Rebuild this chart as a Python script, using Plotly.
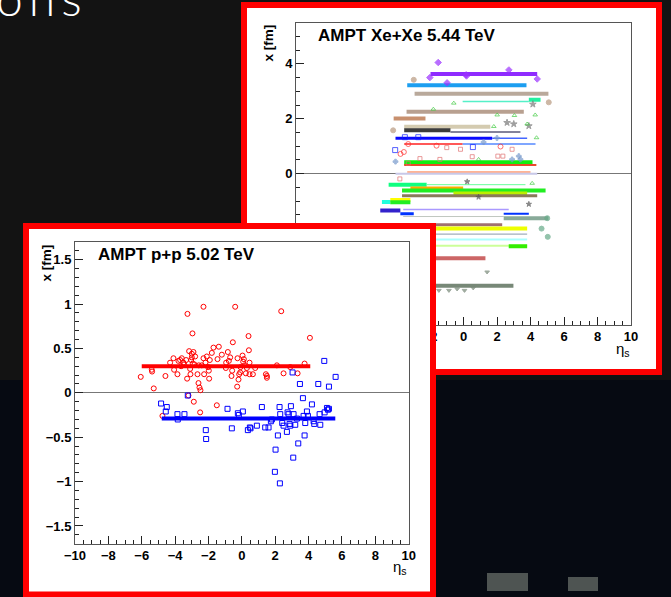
import plotly.graph_objects as go

W, H = 671, 597


def fx(X):
    return X / W


def fy(Y):
    return 1 - Y / H


# ---------------- p+p data ----------------
pp_red_eta = [-6.06, -5.40, -5.38, -5.28, -4.76, -4.58, -4.30, -4.10, -4.06, -3.86, -3.80, -3.70,
              -3.64, -3.60, -3.50, -3.46, -3.34, -3.28, -3.26, -3.20, -3.16, -3.10, -3.08, -3.04,
              -3.00, -3.00, -2.96, -2.94, -2.90, -2.84, -2.80, -2.88, -2.66, -2.60, -2.58, -2.54,
              -2.48, -2.50, -2.40, -2.30, -2.26, -2.30, -2.18, -2.10, -2.02, -1.98, -1.96, -1.92,
              -1.80, -1.70, -1.50, -1.46, -1.38, -1.20, -0.96, -0.94, -0.84, -0.78, -0.70, -0.62,
              -0.58, -0.54, -0.40, -0.28, -0.26, -0.20, -0.16, -0.10, -0.08, 0.04, 0.08, 0.12,
              0.16, 0.24, 0.30, 0.40, 0.42, 0.46, 0.46, 0.66, 0.80, 1.44, 1.50, 1.50, 2.10, 2.36,
              2.50, 2.90, 3.34, 3.76, 4.08]
pp_red_x = [0.18, 0.26, 0.24, 0.05, -0.26, 0.19, 0.34, 0.39, 0.26, 0.21, 0.36, 0.37,
            0.30, 0.39, 0.34, 0.32, 0.37, 0.16, 0.89, -0.03, 0.47, 0.27, 0.21, 0.37,
            0.40, 0.44, 0.67, 0.33, 0.46, 0.32, 0.41, -0.10, 0.21, 0.11, 0.31, 0.06,
            0.03, -0.22, 0.31, 0.39, 0.21, 0.97, 0.34, 0.41, 0.29, 0.25, 0.16, 0.37,
            0.45, 0.51, -0.14, 0.38, 0.52, 0.43, 0.28, 0.34, 0.46, 0.36, 0.40, 0.19,
            0.25, 0.57, 0.97, 0.07, 0.39, 0.15, 0.21, 0.23, 0.29, 0.42, 0.35, 0.38,
            0.31, 0.22, 0.28, 0.64, 0.48, 0.34, 0.21, 0.21, 0.28, 0.21, 0.19, 0.17, 0.31, 0.92,
            0.22, 0.29, 0.22, 0.33, 0.62]

pp_blue_eta = [-4.84, -4.56, -4.50, -3.86, -3.84, -3.44, -3.24, -2.16, -2.14, -0.86, -0.60, -0.24,
               -0.18, 0.06, 0.36, 0.48, 0.52, 0.90, 1.20, 1.40, 1.60, 1.74, 1.80, 2.02, 1.98,
               2.16, 2.26, 2.28, 2.30, 2.42, 2.50, 2.70, 2.74, 2.80, 2.86, 2.90, 2.94, 3.04,
               3.08, 3.10, 3.20, 3.30, 3.38, 3.48, 3.66, 3.70, 3.76, 3.80, 3.90, 3.96, 4.20,
               4.30, 4.34, 4.58, 4.66, 4.70, 4.94, 4.96, 5.10, 5.16, 5.22, 5.22, 5.62]
pp_blue_x = [-0.12, -0.21, -0.16, -0.24, -0.30, -0.24, -0.03, -0.42, -0.52, -0.18, -0.40, -0.23,
             -0.25, -0.21, -0.42, -0.39, -0.40, -0.37, -0.16, -0.39, -0.39, -0.32, -0.30, -0.64, -0.89,
             -0.48, -0.16, -1.02, -0.24, -0.34, -0.37, -0.44, -0.22, -0.24, -0.35, -0.37, -0.15, 0.23,
             -0.73, -0.24, -0.36, -0.29, -0.57, 0.10, -0.06, -0.26, -0.48, -0.34, -0.21, -0.26, -0.13,
             -0.32, -0.35, 0.10, -0.24, -0.36, 0.36, -0.22, -0.17, -0.19, 0.07, -0.18, 0.18]

pp_red_mean = 0.30
pp_red_eta_span = [-6.0, 4.1]
pp_blue_mean = -0.29
pp_blue_eta_span = [-4.8, 5.6]

# ---------------- Xe+Xe data ----------------
xe_seg_eta_start = [-1.97, -3.36, -2.92, -0.05, 3.90, -3.40, -4.17, -3.54, -3.54, -0.78, -4.06, 1.71,
                    -3.54, -0.05, -3.54, -3.54, -3.36, -4.06, -4.47, -2.20, -3.17, -3.67, -0.60,
                    -3.67, -4.37, -4.87, -4.37, -3.60, -4.97, -3.77, 2.40, -3.60, 2.40, -3.5,
                    -3.5, -3.5, -3.5, -3.5, 2.70, -3.5, -3.5]
xe_seg_eta_end = [4.40, 3.76, 5.07, 3.90, 4.60, 3.60, -2.27, 1.60, -0.78, 3.40, 1.71, 3.80,
                  -0.05, 4.30, 4.12, 4.35, 4.00, 4.40, -2.20, 3.70, -0.02, 4.90, 3.80,
                  4.40, -3.17, -4.37, -3.17, 2.70, -3.77, -2.97, 3.90, 2.40, 5.07, 2.31,
                  3.80, 3.80, 3.80, 3.80, 3.80, 1.31, 2.98]
xe_seg_x = [3.63, 3.22, 2.91, 2.63, 2.69, 2.26, 2.01, 1.71, 1.58, 1.52, 1.29, 1.29,
            1.08, 1.08, 0.40, 0.32, 0.06, 0.00, -0.40, -0.40, -0.54, -0.61, -0.72,
            -0.80, -0.96, -1.03, -1.04, -1.30, -1.34, -1.46, -1.46, -1.56, -1.62, -1.86,
            -2.00, -2.20, -2.40, -2.62, -2.64, -3.08, -4.08]
xe_seg_color = ['#8f2bff', '#1c9ef0', '#b9a99b', '#55f0c8', '#22f0a0', '#b8a090', '#c8906e', '#d4cbb0',
                '#3c3c3c', '#5a5a7a', '#0a0aff', '#4466ff', '#ff2020', '#5588ff', '#10ee10', '#e84a2a',
                '#ff9a70', '#c8c8e8', '#10ff80', '#66ff99', '#ffaa00', '#22ee22', '#bbee00', '#8b7a5a',
                '#ffff00', '#22ffdd', '#22ee22', '#aa99ff', '#3322cc', '#0033ff', '#0033ff', '#c0c8c0',
                '#88aa99', '#a07070', '#eeff00', '#8899aa', '#aaffff', '#ccff99', '#33ee00', '#cc6666',
                '#778877']
xe_seg_width = [4, 4, 4, 1.5, 4, 4, 4, 4, 4, 1.5, 3, 1.5, 1.5, 1.5, 5, 2, 1.5, 2, 4, 1, 4, 4, 4,
                3, 4, 4, 4, 1.5, 4, 3, 2, 1, 4, 3, 4, 1, 2, 2, 4, 4, 4]

xe_pt_eta = [-1.51, -2.01, -0.98, 0.18, 2.71, 4.40, 0.16,
             -2.97, 5.09, -4.20,
             4.14, 3.00, 3.90, 2.60,
             -0.58, 2.01, 3.04, 4.28, 4.36, 3.80, 1.81, 0.90, 4.10, -1.80,
             -4.08, -3.50, 0.56, -2.70,
             -3.76, -3.56, -1.61, 2.21, -3.30,
             -3.30, -1.41, -0.18, 0.52, 2.05, 2.35, 2.90, -3.80, -2.60, -1.00,
             -4.06, 3.30, 3.40, 2.90, 2.00, 1.20,
             4.66, 5.03, 5.00,
             1.41, -1.47, -0.87, -0.38, 0.06, 0.58,
             0.22, 0.90, 3.90]
xe_pt_x = [4.05, 3.50, 3.31, 3.56, 3.78, 3.45, 3.60,
           3.42, 2.60, 1.58,
           2.53, 1.81, 1.74, 1.86,
           2.57, 2.14, 2.12, 2.14, 1.31, 1.81, 1.72, 0.52, -0.35, 2.35,
           0.86, 1.33, 0.97, 1.33,
           0.72, 0.79, 1.02, 0.99, 1.08,
           0.38, 0.52, 0.89, 0.62, 0.64, 0.64, 0.89, -0.19, 0.55, 0.95,
           0.44, 0.64, 0.52, 0.52, 1.30, 1.15,
           -2.00, -2.30, -1.62,
           -3.58, -4.25, -4.25, -4.20, -4.25, -4.16,
           -0.29, -0.85, -1.11]
xe_pt_group = (['purple'] * 7 + ['tan'] * 3 + ['star'] * 4 + ['green'] * 10 + ['bsq'] * 4 +
               ['rcirc'] * 5 + ['salmon'] * 10 + ['cross'] * 6 + ['sea'] * 3 + ['tri'] * 6 + ['dark'] * 3)

group_color = {'purple': '#9b30ff', 'tan': '#b89a80', 'star': '#777777', 'green': '#44cc44',
               'bsq': '#1020ff', 'rcirc': '#ff3030', 'salmon': '#e07070', 'cross': '#7799cc',
               'sea': '#66aa88', 'tri': '#778877', 'dark': '#555555'}
group_symbol = {'purple': 'diamond', 'tan': 'circle', 'star': 'star', 'green': 'triangle-up-open',
                'bsq': 'square-open', 'rcirc': 'circle-open', 'salmon': 'square-open', 'cross': 'cross',
                'sea': 'circle', 'tri': 'triangle-down', 'dark': 'star'}
group_size = {'purple': 5, 'tan': 5, 'star': 5, 'green': 4, 'bsq': 5, 'rcirc': 5, 'salmon': 4,
              'cross': 4, 'sea': 5, 'tri': 4, 'dark': 4}

fig = go.Figure()

# Xe+Xe segments (subplot xy)
for e0, e1, xv, c, w in zip(xe_seg_eta_start, xe_seg_eta_end, xe_seg_x, xe_seg_color, xe_seg_width):
    fig.add_trace(go.Scatter(x=[e0, e1], y=[xv, xv], mode='lines', line=dict(color=c, width=w),
                             xaxis='x', yaxis='y', showlegend=False, hoverinfo='skip'))
fig.add_trace(go.Scatter(x=xe_pt_eta, y=xe_pt_x, mode='markers', xaxis='x', yaxis='y',
                         marker=dict(color=[group_color[g] for g in xe_pt_group],
                                     symbol=[group_symbol[g] for g in xe_pt_group],
                                     size=[group_size[g] for g in xe_pt_group],
                                     line=dict(width=1, color=[group_color[g] for g in xe_pt_group])),
                         showlegend=False, hoverinfo='skip'))

# cover subplot (white canvas of the p+p plot), drawn above the Xe subplot
fig.add_trace(go.Scatter(x=[0], y=[0], mode='markers', marker=dict(opacity=0), xaxis='x2', yaxis='y2',
                         showlegend=False, hoverinfo='skip'))

# p+p
fig.add_trace(go.Scatter(x=pp_red_eta, y=pp_red_x, mode='markers', xaxis='x3', yaxis='y3',
                         marker=dict(symbol='circle-open', size=5, color='#ff0000', line=dict(width=1)),
                         showlegend=False))
fig.add_trace(go.Scatter(x=pp_blue_eta, y=pp_blue_x, mode='markers', xaxis='x3', yaxis='y3',
                         marker=dict(symbol='square-open', size=5, color='#0000ff', line=dict(width=1)),
                         showlegend=False))
fig.add_trace(go.Scatter(x=pp_red_eta_span, y=[pp_red_mean, pp_red_mean], mode='lines', xaxis='x3', yaxis='y3',
                         line=dict(color='#ff0000', width=4), showlegend=False))
fig.add_trace(go.Scatter(x=pp_blue_eta_span, y=[pp_blue_mean, pp_blue_mean], mode='lines', xaxis='x3', yaxis='y3',
                         line=dict(color='#0000ff', width=4), showlegend=False))

tickfont = dict(family='Liberation Sans', size=13, color='black', weight='bold')


def ax(**kw):
    d = dict(showline=True, mirror=True, linecolor='#555555', linewidth=1, ticks='inside', ticklen=8,
             tickwidth=1, tickcolor='#222222', showgrid=False, zeroline=False, tickfont=tickfont,
             fixedrange=True, automargin=False)
    d.update(kw)
    return d


fig.update_layout(
    width=W, height=H, autosize=False,
    margin=dict(l=0, r=0, t=0, b=0, pad=0, autoexpand=False),
    paper_bgcolor='#131313', plot_bgcolor='white',
    showlegend=False,
    xaxis=ax(domain=[fx(296), fx(631)], range=[-10, 10], dtick=2, tick0=0, anchor='y',
             minor=dict(ticks='inside', ticklen=4, dtick=0.5, tickcolor='#222222')),
    yaxis=ax(domain=[fy(324.7), fy(22.7)], range=[-5.5, 5.5], dtick=2, tick0=0, anchor='x',
             zeroline=True, zerolinecolor='#777777', zerolinewidth=1,
             minor=dict(ticks='inside', ticklen=4, dtick=0.5, tickcolor='#222222')),
    xaxis2=dict(domain=[fx(23), fx(436)], range=[0, 1], visible=False, anchor='y2', fixedrange=True),
    yaxis2=dict(domain=[0, fy(223)], range=[0, 1], visible=False, anchor='x2', fixedrange=True),
    xaxis3=ax(domain=[fx(75), fx(408.7)], range=[-10, 10], dtick=2, tick0=0, anchor='y3',
              minor=dict(ticks='inside', ticklen=4, dtick=0.5, tickcolor='#222222')),
    yaxis3=ax(domain=[fy(543.7), fy(242)], range=[-1.7, 1.7], dtick=0.5, tick0=0, anchor='x3',
              zeroline=True, zerolinecolor='#777777', zerolinewidth=1,
              minor=dict(ticks='inside', ticklen=4, dtick=0.1, tickcolor='#222222')),
)

shapes = [
    # dark navy lower part of slide background
    dict(type='rect', xref='paper', yref='paper', x0=0, x1=1, y0=0, y1=fy(380),
         fillcolor='#060a12', line=dict(width=0), layer='below'),
    # stadium lights
    dict(type='rect', xref='paper', yref='paper', x0=fx(487), x1=fx(528), y0=fy(591), y1=fy(573),
         fillcolor='#4e5452', line=dict(width=0), layer='below'),
    dict(type='rect', xref='paper', yref='paper', x0=fx(568), x1=fx(598), y0=fy(591), y1=fy(577),
         fillcolor='#4e5452', line=dict(width=0), layer='below'),
    # Xe+Xe canvas with red frame
    dict(type='rect', xref='paper', yref='paper', x0=fx(244), x1=fx(659), y0=fy(372), y1=fy(5),
         fillcolor='white', line=dict(color='#ff0000', width=6), layer='below'),
    # p+p red frame (on top)
    dict(type='rect', xref='paper', yref='paper', x0=fx(26), x1=fx(433), y0=fy(594.5), y1=fy(226),
         fillcolor='rgba(0,0,0,0)', line=dict(color='#ff0000', width=6), layer='above'),
]
fig.update_layout(shapes=shapes)

ann = [
    dict(text='o\u2009n\u2009s', x=fx(-6), y=fy(28), xanchor='left', yanchor='bottom',
         font=dict(family='Lato', size=48, color='white', weight=300)),
    dict(text='AMPT Xe+Xe 5.44 TeV', x=fx(316), y=fy(35), xanchor='left', yanchor='middle',
         font=dict(family='Liberation Sans', size=17, color='black', weight='bold')),
    dict(text='x [fm]', x=fx(268), y=fy(23), xanchor='center', yanchor='top', textangle=-90,
         font=dict(family='Liberation Sans', size=13.5, color='black', weight='bold')),
    dict(text='η<sub>s</sub>', x=fx(623), y=fy(350), xanchor='center', yanchor='middle',
         font=dict(family='Liberation Sans', size=15, color='black')),
    dict(text='AMPT p+p 5.02 TeV', x=fx(96), y=fy(255), xanchor='left', yanchor='middle',
         font=dict(family='Liberation Sans', size=17, color='black', weight='bold')),
    dict(text='x [fm]', x=fx(46), y=fy(243), xanchor='center', yanchor='top', textangle=-90,
         font=dict(family='Liberation Sans', size=13.5, color='black', weight='bold')),
    dict(text='η<sub>s</sub>', x=fx(400), y=fy(567), xanchor='center', yanchor='middle',
         font=dict(family='Liberation Sans', size=15, color='black')),
]
for a in ann:
    a.update(xref='paper', yref='paper', showarrow=False)
fig.update_layout(annotations=ann)

fig.write_html('out.html')
